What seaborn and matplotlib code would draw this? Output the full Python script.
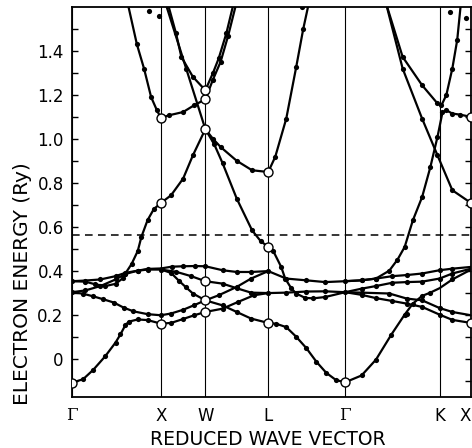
import numpy as np
import pandas as pd
import matplotlib
matplotlib.use("Agg")
import matplotlib.pyplot as plt
import seaborn as sns

# symmetry points along the path (k in units of 2pi/a)
sym_labels = ["Γ", "X", "W", "L", "Γ", "K", "X"]
sym_k = [0.0, 1.0, 1.5, 2.207, 3.073, 4.134, 4.488]
fermi_level = 0.561

# --- Gamma -> X
gx1_k = [0, .125, .24, .375, .49, .545, .60, .64, .74, .85, 1.0]
gx1_e = [-.11, -.094, -.051, .011, .073, .11, .152, .168, .178, .175, .159]
gx2_k = [0, .125, .24, .35, .47, .58, .69, .85, 1.0]
gx2_e = [.302, .295, .283, .27, .255, .232, .215, .202, .197]
gx3_k = [0, .15, .32, .49, .60, .74, .85, 1.0]
gx3_e = [.302, .31, .33, .36, .385, .40, .405, .405]
gx4_k = [0, .15, .32, .49, .60, .74, .85, 1.0]
gx4_e = [.352, .355, .36, .375, .39, .40, .408, .41]
gx5_k = [0, .15, .26, .375, .49, .57, .60, .67, .74, .78, .85, .92, 1.0]
gx5_e = [.352, .35, .338, .33, .34, .365, .387, .43, .49, .553, .63, .68, .708]
gx6_k = [.625, .73, .81, .89, .955, 1.0]
gx6_e = [1.62, 1.43, 1.32, 1.19, 1.13, 1.095]

# --- X -> W
xw1_k = [1.0, 1.114, 1.25, 1.375, 1.5]
xw1_e = [.159, .162, .18, .197, .212]
xw2_k = [1.0, 1.114, 1.25, 1.375, 1.5]
xw2_e = [.197, .205, .222, .243, .265]
xw3_k = [1.0, 1.12, 1.25, 1.38, 1.5]
xw3_e = [.41, .418, .42, .421, .42]
xw4_k = [1.0, 1.17, 1.34, 1.5]
xw4_e = [.405, .395, .375, .352]
xw5_k = [1.0, 1.114, 1.2, 1.28, 1.36, 1.5]
xw5_e = [.405, .39, .355, .325, .296, .265]
xw6_k = [1.0, 1.114, 1.25, 1.36, 1.5]
xw6_e = [.708, .743, .819, .925, 1.044]
xw7_k = [1.0, 1.09, 1.25, 1.375, 1.5]
xw7_e = [1.095, 1.107, 1.122, 1.153, 1.18]
xw8_k = [1.05, 1.284, 1.5]
xw8_e = [1.62, 1.32, 1.044]
xw9_k = [1.075, 1.17, 1.23, 1.36, 1.5]
xw9_e = [1.62, 1.48, 1.373, 1.282, 1.221]

# --- W -> L
wl1_k = [1.5, 1.693, 1.853, 2.014, 2.207]
wl1_e = [.42, .402, .394, .394, .398]
wl2_k = [1.5, 1.693, 1.853, 2.014, 2.207]
wl2_e = [.352, .341, .32, .30, .298]
wl3_k = [1.5, 1.65, 1.853, 2.014, 2.207]
wl3_e = [.265, .288, .326, .364, .398]
wl4_k = [1.5, 1.693, 1.853, 2.014, 2.207]
wl4_e = [.265, .242, .212, .182, .162]
wl5_k = [1.5, 1.693, 1.864, 2.046, 2.207]
wl5_e = [.212, .227, .257, .288, .298]
wl6_k = [1.5, 1.586, 1.671, 1.853, 2.025, 2.207]
wl6_e = [1.044, 1.0, .963, .90, .857, .849]
wl7_k = [1.5, 1.6, 1.693, 1.853, 2.025, 2.121, 2.207]
wl7_e = [1.044, .975, .89, .728, .584, .535, .508]
wl8_k = [1.5, 1.586, 1.65, 1.736, 1.82]
wl8_e = [1.221, 1.30, 1.366, 1.48, 1.62]
wl9_k = [1.5, 1.586, 1.671, 1.757, 1.85]
wl9_e = [1.18, 1.27, 1.35, 1.47, 1.62]

# --- L -> Gamma
lg1_k = [2.207, 2.41, 2.635, 2.848, 3.073]
lg1_e = [.398, .364, .356, .348, .352]
lg2_k = [2.207, 2.41, 2.635, 2.848, 3.073]
lg2_e = [.298, .30, .305, .306, .302]
lg3_k = [2.207, 2.263, 2.353, 2.398, 2.466, 2.522, 2.623, 2.713, 2.848, 3.073]
lg3_e = [.508, .49, .417, .364, .32, .296, .276, .274, .28, .302]
lg4_k = [2.207, 2.3, 2.41, 2.52, 2.635, 2.75, 2.86, 2.97, 3.073]
lg4_e = [.162, .158, .143, .10, .048, -.015, -.065, -.098, -.108]
lg5_k = [2.207, 2.286, 2.41, 2.522, 2.601, 2.665]
lg5_e = [.849, .918, 1.092, 1.327, 1.50, 1.62]

# --- Gamma -> K -> X
gk1_k = [3.073, 3.257, 3.419, 3.603, 3.765, 3.938, 4.134, 4.278, 4.488]
gk1_e = [.352, .356, .364, .375, .38, .387, .402, .409, .417]
gk2_k = [3.073, 3.257, 3.419, 3.603, 3.765, 3.938, 4.134, 4.278, 4.488]
gk2_e = [.302, .318, .33, .345, .348, .35, .364, .387, .409]
gk3_k = [3.073, 3.257, 3.569, 3.765, 3.938, 4.134, 4.278, 4.488]
gk3_e = [.302, .30, .296, .273, .265, .23, .212, .197]
gk4_k = [3.073, 3.257, 3.419, 3.603, 3.765, 3.938, 4.134, 4.278, 4.488]
gk4_e = [.302, .29, .275, .262, .25, .235, .20, .176, .162]
gk5_k = [3.073, 3.257, 3.419, 3.592, 3.742, 3.834, 3.938, 4.03, 4.134, 4.278, 4.488]
gk5_e = [-.108, -.077, -.005, .109, .20, .25, .285, .30, .32, .36, .405]
gk6_k = [3.073, 3.257, 3.419, 3.569, 3.661, 3.742, 3.834, 3.938, 4.03, 4.111,
         4.167, 4.211, 4.278, 4.366, 4.488]
gk6_e = [.352, .356, .364, .40, .45, .508, .629, .735, .87, 1.009,
         1.12, 1.13, 1.115, 1.11, 1.10]
gk7_k = [3.53, 3.719, 3.938, 4.111, 4.278, 4.488]
gk7_e = [1.62, 1.32, 1.092, .925, .766, .708]
gk8_k = [3.53, 3.719, 3.938, 4.111, 4.156, 4.211, 4.278, 4.333, 4.375]
gk8_e = [1.62, 1.373, 1.244, 1.161, 1.153, 1.20, 1.32, 1.45, 1.62]

# open circles at symmetry points
circle_k = [0, 1, 1, 1, 1.5, 1.5, 1.5, 1.5, 1.5, 1.5, 2.207, 2.207, 2.207,
            3.073, 4.488, 4.488, 4.488]
circle_e = [-.11, .159, .708, 1.095, .212, .265, .352, 1.044, 1.18, 1.221,
            .162, .508, .849, -.108, .162, .708, 1.10]

# filled points at symmetry points and a few stray points
point_k = [0, 0, 1, 1, 1.5, 2.207, 2.207, 3.073, 3.073, 4.134, 4.134, 4.134,
           4.134, 0.867, 0.98, 2.59, 4.256, 4.43, 3.77]
point_e = [.302, .352, .197, .405, .42, .298, .398, .302, .352, .402, .364,
           .23, .20, 1.58, 1.56, 1.60, 1.578, 1.548, .201]

bands = {
    "gx1": (gx1_k, gx1_e), "gx2": (gx2_k, gx2_e), "gx3": (gx3_k, gx3_e),
    "gx4": (gx4_k, gx4_e), "gx5": (gx5_k, gx5_e), "gx6": (gx6_k, gx6_e),
    "xw1": (xw1_k, xw1_e), "xw2": (xw2_k, xw2_e), "xw3": (xw3_k, xw3_e),
    "xw4": (xw4_k, xw4_e), "xw5": (xw5_k, xw5_e), "xw6": (xw6_k, xw6_e),
    "xw7": (xw7_k, xw7_e), "xw8": (xw8_k, xw8_e), "xw9": (xw9_k, xw9_e),
    "wl1": (wl1_k, wl1_e), "wl2": (wl2_k, wl2_e), "wl3": (wl3_k, wl3_e),
    "wl4": (wl4_k, wl4_e), "wl5": (wl5_k, wl5_e), "wl6": (wl6_k, wl6_e),
    "wl7": (wl7_k, wl7_e), "wl8": (wl8_k, wl8_e), "wl9": (wl9_k, wl9_e),
    "lg1": (lg1_k, lg1_e), "lg2": (lg2_k, lg2_e), "lg3": (lg3_k, lg3_e),
    "lg4": (lg4_k, lg4_e), "lg5": (lg5_k, lg5_e),
    "gk1": (gk1_k, gk1_e), "gk2": (gk2_k, gk2_e), "gk3": (gk3_k, gk3_e),
    "gk4": (gk4_k, gk4_e), "gk5": (gk5_k, gk5_e), "gk6": (gk6_k, gk6_e),
    "gk7": (gk7_k, gk7_e), "gk8": (gk8_k, gk8_e),
}

rows = []
for name, (ks, es) in bands.items():
    for k, e in zip(ks, es):
        rows.append({"band": name, "k": k, "E": e})
df = pd.DataFrame(rows)

# computed points along the curves (everything off the symmetry lines)
on_sym = df["k"].apply(lambda v: min(abs(v - s) for s in sym_k) < 1e-3)
dots = df[~on_sym & (df["E"] < 1.6)]

sns.set_style("ticks")
plt.rcParams["font.family"] = ["DejaVu Sans"]
plt.rcParams.update({"text.color": "black", "axes.labelcolor": "black",
                     "xtick.color": "black", "ytick.color": "black",
                     "axes.edgecolor": "black"})

fig = plt.figure(figsize=(4.72, 4.48), dpi=100)
ax = fig.add_axes([72 / 472, 1 - 397 / 448, 399 / 472, 390 / 448])

for s in sym_k:
    ax.axvline(s, color="black", lw=0.8, zorder=1)
ax.axhline(fermi_level, color="black", lw=1.1, ls=(0, (5, 3.5)), zorder=1)

sns.lineplot(data=df, x="k", y="E", units="band", estimator=None, sort=False,
             color="black", lw=1.6, legend=False, ax=ax, zorder=3)
sns.scatterplot(data=dots, x="k", y="E", color="black", s=14, linewidth=0,
                ax=ax, zorder=4, legend=False)
sns.scatterplot(x=point_k, y=point_e, color="black", s=14, linewidth=0,
                ax=ax, zorder=4, legend=False)
sns.scatterplot(x=circle_k, y=circle_e, color="white", edgecolor="black",
                s=42, linewidth=1.0, ax=ax, zorder=5, legend=False)

ax.set_xlim(0, 4.488)
ax.set_ylim(-0.175, 1.60)

ax.set_xticks(sym_k)
ax.set_xticklabels(sym_labels, fontsize=12)
ax.tick_params(axis="x", length=0, pad=7)
xlbls = ax.get_xticklabels()
for lbl in xlbls:
    if lbl.get_text() == "Γ":
        lbl.set_family("DejaVu Serif")
xlbls[-1].set_horizontalalignment("right")

ax.set_yticks(np.arange(0, 1.5, 0.2))
ax.set_yticklabels(["0", "0.2", "0.4", "0.6", "0.8", "1.0", "1.2", "1.4"], fontsize=12)
ax.set_yticks(np.arange(-0.1, 1.6, 0.2), minor=True)
ax.tick_params(axis="y", which="both", direction="in", length=4, width=1,
               right=True, pad=6)

for sp in ax.spines.values():
    sp.set_linewidth(1.3)
    sp.set_visible(True)

ax.set_xlabel("REDUCED WAVE VECTOR", fontsize=13.5)
ax.xaxis.set_label_coords(0.49, -0.085)
ax.xaxis.label.set_verticalalignment("top")
ax.set_ylabel("ELECTRON ENERGY (Ry)", fontsize=14.5)
ax.yaxis.set_label_coords(-0.10, 0.29)

fig.savefig("out.png", dpi=100)
